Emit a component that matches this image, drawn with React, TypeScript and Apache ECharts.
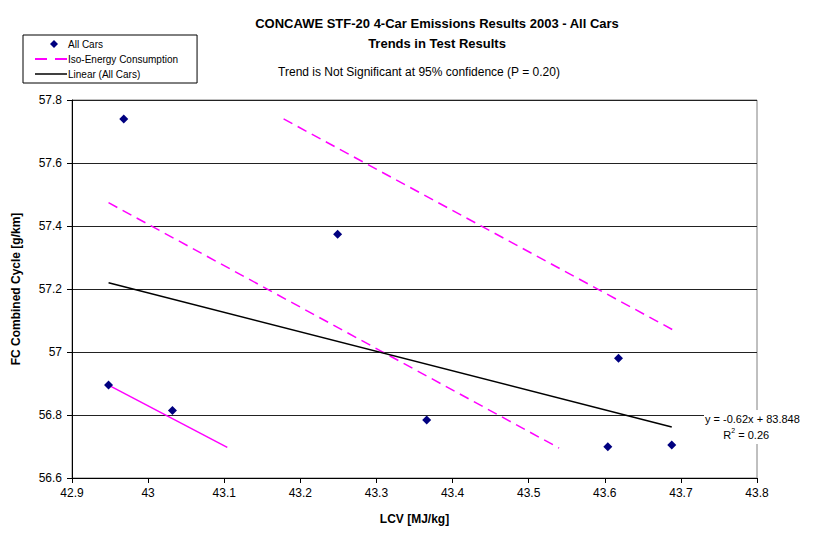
import React, { useEffect, useRef } from "react";
import * as echarts from "echarts";

const FONT = "'Liberation Sans', Arial, Helvetica, sans-serif";

const allCars: [number, number][] = [
  [42.968, 57.74],
  [42.948, 56.895],
  [43.032, 56.814],
  [43.249, 57.374],
  [43.366, 56.784],
  [43.618, 56.98],
  [43.604, 56.699],
  [43.688, 56.705],
];

const isoUpper: [number, number][] = [
  [43.178, 57.74],
  [43.689, 57.071],
];
const isoMiddle: [number, number][] = [
  [42.948, 57.474],
  [43.54, 56.695],
];
const isoLower: [number, number][] = [
  [42.948, 56.895],
  [43.104, 56.697],
];

const linearTrend: [number, number][] = [
  [42.948, 57.22],
  [43.688, 56.762],
];

const xTicks = { min: 42.9, max: 43.8, interval: 0.1 };
const yTicks = { min: 56.6, max: 57.8, interval: 0.2 };

const titleLines = [
  "CONCAWE STF-20 4-Car Emissions Results 2003 - All Cars",
  "Trends in Test Results",
];
const subtitle = "Trend is Not Significant at 95% confidence (P = 0.20)";
const equation = "y = -0.62x + 83.848";
const rSquared = "0.26";

export default function App() {
  const ref = useRef<HTMLDivElement>(null);

  useEffect(() => {
    if (!ref.current) return;
    const chart = echarts.init(ref.current, null, { renderer: "svg" });
    const magenta = "#FF00FF";
    chart.setOption({
      animation: false,
      backgroundColor: "#ffffff",
      textStyle: { fontFamily: FONT },
      title: [
        {
          text: titleLines.join("\n"),
          left: 432,
          top: 8,
          textAlign: "center",
          textStyle: {
            fontFamily: FONT,
            fontSize: 13,
            fontWeight: "bold",
            color: "#000",
            lineHeight: 20,
          },
        },
        {
          text: subtitle,
          left: 414,
          top: 61,
          textAlign: "center",
          textStyle: {
            fontFamily: FONT,
            fontSize: 12,
            fontWeight: "normal",
            color: "#000",
          },
        },
      ],
      legend: {
        orient: "vertical",
        left: 23,
        top: 35,
        itemWidth: 32,
        itemHeight: 8,
        itemGap: 5,
        padding: [4, 19, 4, 12],
        borderColor: "#000",
        borderWidth: 1,
        selectedMode: false,
        symbolKeepAspect: true,
        data: [
          {
            name: "All Cars",
            icon: "path://M0,4L0.01,4L0,4.01ZM32,4L31.99,4L32,4.01ZM19,0L23,4L19,8L15,4Z",
            itemStyle: { color: "#000080", opacity: 1 },
          },
          {
            name: "Iso-Energy Consumption",
            icon: "path://M0,0h12v2h-12zM20,0h12v2h-12z",
            itemStyle: { color: magenta },
          },
          {
            name: "Linear (All Cars)",
            icon: "path://M0,0h32v1.5h-32z",
            itemStyle: { color: "#000" },
          },
        ],
        textStyle: { fontFamily: FONT, fontSize: 10, color: "#000", padding: [0, 0, 0, -4] },
      },
      grid: {
        left: 72,
        right: 58,
        top: 100,
        bottom: 55,
        show: true,
        borderColor: "#808080",
        borderWidth: 1,
        backgroundColor: "#fff",
      },
      xAxis: {
        type: "value",
        min: xTicks.min,
        max: xTicks.max,
        interval: xTicks.interval,
        name: "LCV [MJ/kg]",
        nameLocation: "middle",
        nameGap: 35,
        nameTextStyle: { fontFamily: FONT, fontSize: 12, fontWeight: "bold", color: "#000" },
        axisLine: { onZero: false, lineStyle: { color: "#000", width: 1 } },
        axisTick: { show: true, inside: false, length: 5, lineStyle: { color: "#000" } },
        axisLabel: {
          fontFamily: FONT,
          fontSize: 12,
          color: "#000",
          margin: 9,
          formatter: (v: number) => String(parseFloat(v.toFixed(1))),
        },
        splitLine: { show: false },
      },
      yAxis: {
        type: "value",
        min: yTicks.min,
        max: yTicks.max,
        interval: yTicks.interval,
        name: "FC Combined Cycle [g/km]",
        nameLocation: "middle",
        nameGap: 50,
        nameRotate: 90,
        nameTextStyle: { fontFamily: FONT, fontSize: 12, fontWeight: "bold", color: "#000" },
        axisLine: { onZero: false, lineStyle: { color: "#000", width: 1 } },
        axisTick: { show: true, inside: false, length: 5, lineStyle: { color: "#000" } },
        axisLabel: {
          fontFamily: FONT,
          fontSize: 12,
          color: "#000",
          margin: 10,
          formatter: (v: number) => String(parseFloat(v.toFixed(1))),
        },
        splitLine: { show: true, lineStyle: { color: "#222", width: 1 } },
      },
      series: [
        {
          name: "All Cars",
          type: "scatter",
          symbol: "diamond",
          symbolSize: 9,
          itemStyle: { color: "#000080", opacity: 1 },
          data: allCars,
          z: 5,
        },
        {
          name: "Iso-Energy Consumption",
          type: "line",
          symbol: "none",
          lineStyle: { color: magenta, width: 1.5, type: [10, 6] },
          itemStyle: { color: magenta },
          data: isoUpper,
        },
        {
          name: "Iso-Energy Consumption",
          type: "line",
          symbol: "none",
          lineStyle: { color: magenta, width: 1.5, type: [10, 6] },
          itemStyle: { color: magenta },
          data: isoMiddle,
        },
        {
          name: "Iso-Energy Consumption",
          type: "line",
          symbol: "none",
          lineStyle: { color: magenta, width: 1.5, type: "solid" },
          itemStyle: { color: magenta },
          data: isoLower,
        },
        {
          name: "Linear (All Cars)",
          type: "line",
          symbol: "none",
          lineStyle: { color: "#000", width: 1.5 },
          itemStyle: { color: "#000" },
          data: linearTrend,
        },
      ],
      graphic: [
        {
          type: "text",
          left: 704,
          top: 410,
          z: 100,
          style: {
            text: `{t|${equation}}\n{t|      R}{s|2}{t| = ${rSquared}}`,
            fill: "#000",
            backgroundColor: "#fff",
            padding: [1, 1, 1, 1],
            lineHeight: 16,
            rich: {
              t: { fontFamily: FONT, fontSize: 11, fill: "#000", lineHeight: 16, backgroundColor: "#fff" },
              s: { fontFamily: FONT, fontSize: 7, fill: "#000", verticalAlign: "top", lineHeight: 12, backgroundColor: "#fff" },
            },
          },
        },
      ],
    });
    return () => chart.dispose();
  }, []);

  return (
    <div
      ref={ref}
      style={{ position: "fixed", left: 0, top: 0, width: 815, height: 533 }}
    />
  );
}
